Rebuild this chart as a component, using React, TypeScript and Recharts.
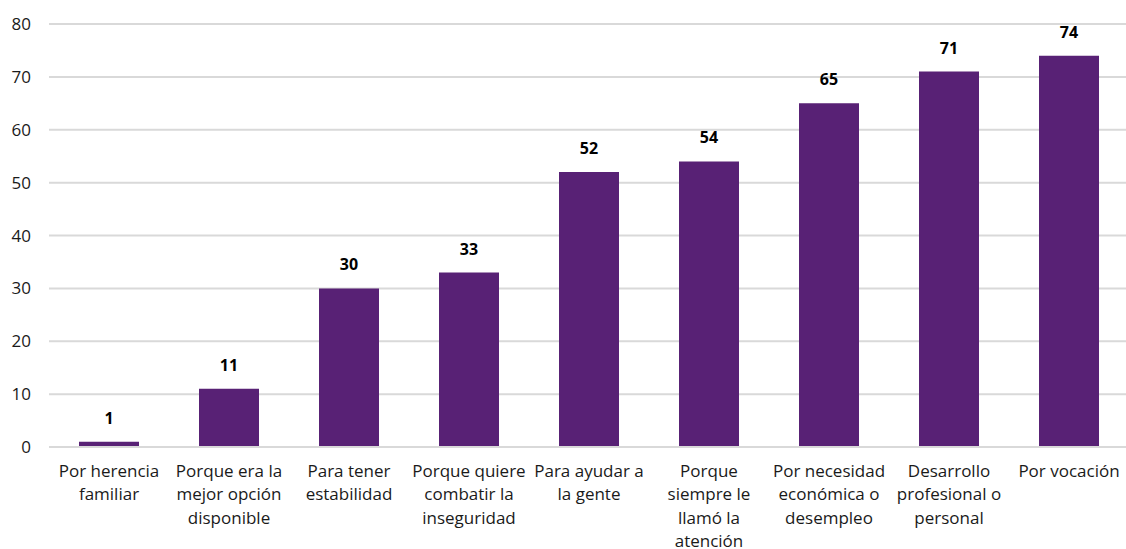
import React from 'react';
import { BarChart, Bar, XAxis, YAxis, CartesianGrid, LabelList } from 'recharts';

const categories = [
  'Por herencia\nfamiliar',
  'Porque era la\nmejor opción\ndisponible',
  'Para tener\nestabilidad',
  'Porque quiere\ncombatir la\ninseguridad',
  'Para ayudar a\nla gente',
  'Porque\nsiempre le\nllamó la\natención',
  'Por necesidad\neconómica o\ndesempleo',
  'Desarrollo\nprofesional o\npersonal',
  'Por vocación',
];
const values = [1, 11, 30, 33, 52, 54, 65, 71, 74];
const yTicks = [0, 10, 20, 30, 40, 50, 60, 70, 80];

const data = categories.map((name, i) => ({ name, value: values[i] }));

const FONT = '"Open Sans", "Noto Sans", sans-serif';

const CategoryTick = (props: any) => {
  const { x, y, payload } = props;
  const lines = String(payload.value).split('\n');
  return (
    <text x={x} y={y} textAnchor="middle" fill="#1a1a1a" fontSize={17} fontFamily={FONT}>
      {lines.map((line, i) => (
        <tspan key={i} x={x} dy={i === 0 ? 30 : 23.3}>
          {line}
        </tspan>
      ))}
    </text>
  );
};

const App: React.FC = () => {
  return (
    <div style={{ position: 'absolute', left: 0, top: 0, width: 1126, height: 549, overflow: 'hidden', background: '#fff' }}>
      <BarChart
        width={1140}
        height={549}
        data={data}
        margin={{ top: 24, right: 11, left: 0, bottom: 72 }}
        barCategoryGap={30}
      >
        <CartesianGrid vertical={false} stroke="#d9d9d9" strokeWidth={2} />
        <XAxis
          dataKey="name"
          interval={0}
          tickLine={false}
          axisLine={{ stroke: '#d9d9d9', strokeWidth: 2 }}
          tick={<CategoryTick />}
          tickSize={0}
          tickMargin={0}
          height={30}
        />
        <YAxis
          domain={[0, 80]}
          ticks={yTicks}
          width={49}
          axisLine={false}
          tickLine={false}
          tickMargin={12}
          tick={{ fill: '#1a1a1a', fontSize: 17, fontFamily: FONT }}
        />
        <Bar dataKey="value" fill="#582175" isAnimationActive={false}>
          <LabelList
            dataKey="value"
            position="top"
            offset={18}
            fill="#000"
            fontSize={16}
            fontWeight="bold"
            fontFamily={FONT}
          />
        </Bar>
      </BarChart>
    </div>
  );
};

export default App;
